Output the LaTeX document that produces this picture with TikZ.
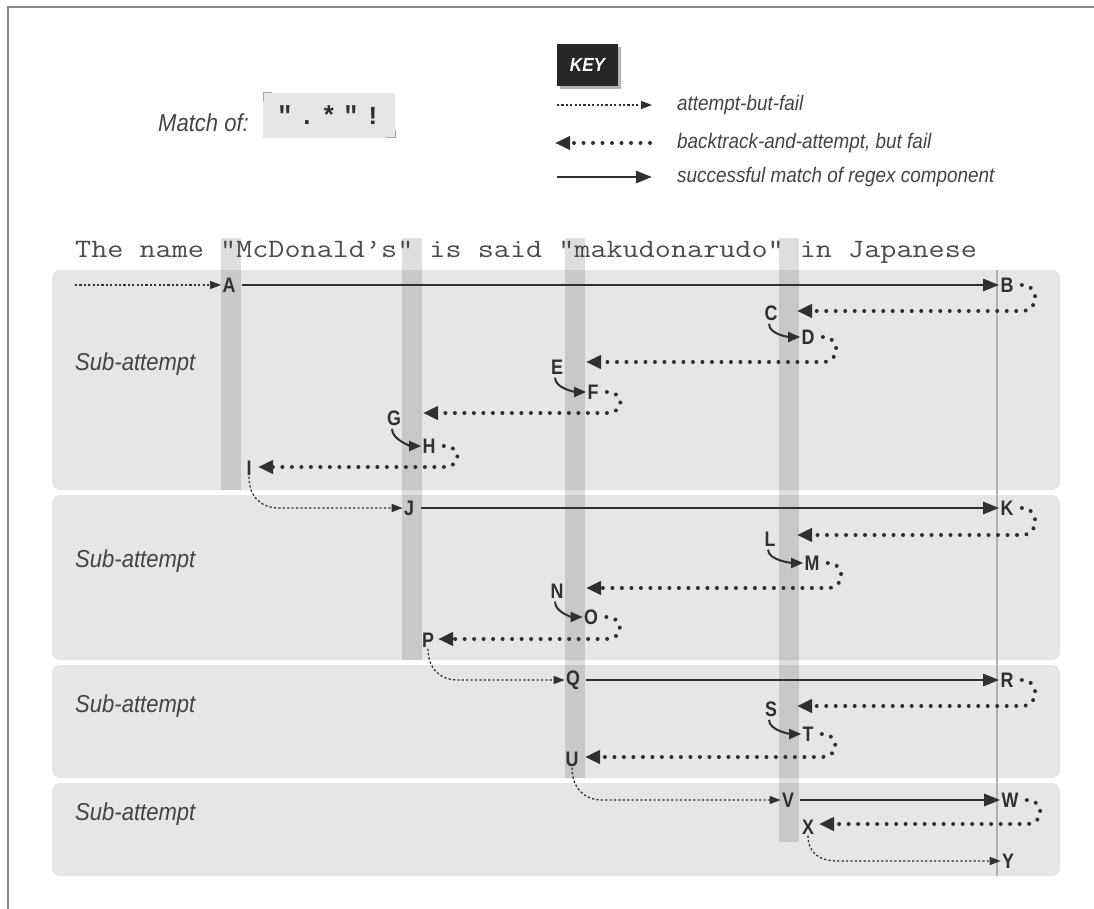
\documentclass[tikz,border=0pt]{standalone}
\usepackage{fontspec}
\setmainfont{Liberation Sans}
\usetikzlibrary{arrows.meta,calc}
\newfontfamily\letfont[FakeStretch=0.85]{Liberation Sans}
\newfontfamily\capfont[FakeStretch=0.9]{Liberation Sans}
\newfontfamily\sentfont[FakeStretch=1.18,Ligatures=TeXOff]{Latin Modern Mono}
\newfontfamily\boxfont[Ligatures=TeXOff]{Liberation Mono}
\definecolor{panel}{RGB}{229,230,230}
\definecolor{ink}{RGB}{48,48,48}
\definecolor{capink}{RGB}{68,68,68}
\definecolor{sentink}{RGB}{75,75,75}
\begin{document}
\begin{tikzpicture}[x=1pt,y=-1pt,
  panelbox/.style={fill=panel, rounded corners=8pt},
  strip/.style={fill=black, fill opacity=0.13},
  lbl/.style={font=\letfont\bfseries\fontsize{21}{21}\selectfont, text=ink, inner sep=1.2pt},
  sub/.style={font=\capfont\itshape\fontsize{24.5}{24.5}\selectfont, text=capink, anchor=west, inner sep=0pt},
  keytext/.style={font=\capfont\itshape\fontsize{21}{21}\selectfont, text=capink, anchor=west, inner sep=0pt},
  good/.style={draw=ink, line width=2.8pt, -{Triangle[length=16pt,width=12pt]}},
  back/.style={draw=ink, line width=4pt, dash pattern=on 0pt off 9.5pt, line cap=round, -{Triangle[length=15pt,width=13pt]}},
  try/.style={draw=ink, line width=1.3pt, dash pattern=on 2.2pt off 2.2pt, -{Triangle[length=11pt,width=8pt]}},
  hook/.style={draw=ink, line width=2pt, -{Triangle[length=12pt,width=10pt]}},
]
\useasboundingbox (0,0) rectangle (1094,909);
\fill[white] (0,0) rectangle (1094,909);
% frame
\draw[black!45, line width=2.5pt] (8,909) -- (8,7) -- (1094,7);

% panels
\fill[panelbox] (52,270) rectangle (1060,490);
\fill[panelbox] (52,495) rectangle (1060,660);
\fill[panelbox] (52,665) rectangle (1060,778);
\fill[panelbox] (52,783) rectangle (1060,876);

% strips
\fill[strip] (221,238) rectangle (241,490);
\fill[strip] (402,238) rectangle (422,660);
\fill[strip] (565,238) rectangle (585,778);
\fill[strip] (779,238) rectangle (799,842);
\draw[black!30, line width=1.5pt] (997,270) -- (997,876);

% header
\node[anchor=west, font=\capfont\itshape\fontsize{24.5}{24.5}\selectfont, text=capink, inner sep=0pt] (matchof) at (158,123) {Match of:};
\node[fill=panel, minimum width=132pt, minimum height=45pt, inner sep=0pt,
      font=\boxfont\bfseries\fontsize{26}{26}\selectfont, text=ink] (regex) at (329,115.5)
      {\makebox[22pt]{"}\makebox[22pt]{.}\makebox[22pt]{*}\makebox[22pt]{"}\makebox[22pt]{!}};
\draw[black!35, line width=1pt] (263,101) -- (263,93) -- (272,93);
\draw[black!35, line width=1pt] (386,138) -- (395,138) -- (395,130);

\fill[black!30] (560,47) rectangle (621,89);
\node[fill={rgb,255:red,38;green,38;blue,38}, minimum width=61pt, minimum height=42pt, inner sep=0pt,
      text=white, font=\capfont\bfseries\itshape\fontsize{19}{19}\selectfont] (key) at (587.5,65) {KEY};

\coordinate (k1a) at (557,105);
\coordinate (k1b) at (652,105);
\draw[try] (k1a) -- (k1b);
\node[keytext] (k1) at (677,105) {attempt-but-fail};
\coordinate (k2a) at (650,143);
\coordinate (k2b) at (555,143);
\draw[back] (k2a) -- (k2b);
\node[keytext] (k2) at (677,143) {backtrack-and-attempt, but fail};
\coordinate (k3a) at (557,177);
\coordinate (k3b) at (652,177);
\draw[good] (k3a) -- (k3b);
\node[keytext] (k3) at (677,177) {successful match of regex component};

% sentence
\node[anchor=base west, inner sep=0pt, text=sentink,
      font=\sentfont\fontsize{26.5}{26.5}\selectfont] (sentence) at (75,258)
      {The name "McDonald’s" is said "makudonarudo" in Japanese};

% sub-attempt labels
\node[sub] (s1) at (75,364) {Sub-attempt};
\node[sub] (s2) at (75,561) {Sub-attempt};
\node[sub] (s3) at (75,706) {Sub-attempt};
\node[sub] (s4) at (75,814) {Sub-attempt};

% letters
\node[lbl] (A) at (229,285) {A};
\node[lbl] (B) at (1007,285) {B};
\node[lbl] (C) at (771,313) {C};
\node[lbl] (D) at (808,337) {D};
\node[lbl] (E) at (557,367) {E};
\node[lbl] (F) at (593,392) {F};
\node[lbl] (G) at (394,418) {G};
\node[lbl] (H) at (429,446) {H};
\node[lbl] (I) at (249,468) {I};
\node[lbl] (J) at (409,508) {J};
\node[lbl] (K) at (1007,508) {K};
\node[lbl] (L) at (770,539) {L};
\node[lbl] (M) at (812,563) {M};
\node[lbl] (N) at (557,591) {N};
\node[lbl] (O) at (591,617) {O};
\node[lbl] (P) at (428,640) {P};
\node[lbl] (Q) at (573,680) {Q};
\node[lbl] (R) at (1007,680) {R};
\node[lbl] (S) at (771,709) {S};
\node[lbl] (T) at (808,734) {T};
\node[lbl] (U) at (572,759) {U};
\node[lbl] (V) at (788,800) {V};
\node[lbl] (W) at (1010,800) {W};
\node[lbl] (X) at (808,827) {X};
\node[lbl] (Y) at (1008,861) {Y};

% tip points of backtracks
\coordinate (tC) at (797,311);
\coordinate (tE) at (586,362);
\coordinate (tG) at (423,413);
\coordinate (tI) at (258,467);
\coordinate (tL) at (797,535);
\coordinate (tN) at (586,588);
\coordinate (tP) at (438,639);
\coordinate (tS) at (797,706);
\coordinate (tU) at (585,757);
\coordinate (tX) at (819,824);
\coordinate (s0) at (75,285);

% successful matches
\draw[good, shorten <=5pt] (A.east) -- (B.west);
\draw[good, shorten <=6pt] (J.east) -- (K.west);
\draw[good, shorten <=5pt] (Q.east) -- (R.west);
\draw[good, shorten <=5pt] (V.east) -- (W.west);

% attempts that fail
\draw[try] (s0) -- (A.west);
\draw[try] (I.south) .. controls +(0,20) and +(-18,0) .. ($(I.south |- J.west)+(30,0)$) -- (J.west);
\draw[try] (P.south) .. controls +(0,20) and +(-18,0) .. ($(P.south |- Q.west)+(30,0)$) -- (Q.west);
\draw[try] (U.south) .. controls +(0,20) and +(-18,0) .. ($(U.south |- V.west)+(30,0)$) -- (V.west);
\draw[try] (X.south) .. controls +(0,18) and +(-18,0) .. ($(X.south |- Y.west)+(30,0)$) -- (Y.west);

% backtracks
\foreach \a/\t in {B/tC, D/tE, F/tG, H/tI, K/tL, M/tN, O/tP, R/tS, T/tU, W/tX}{
  \draw[back] ($(\a.east)+(7,0)$) .. controls +(18,0) and +(18,0) .. ($(\t -| \a.east)+(7,0)$) -- (\t);
}

% hooks
\foreach \a/\b in {C/D, E/F, G/H, L/M, N/O, S/T}{
  \draw[hook] ($(\a.south)+(-2,2)$) .. controls +(0,11) and +(-10,0) .. (\b.west);
}
\end{tikzpicture}
\end{document}
